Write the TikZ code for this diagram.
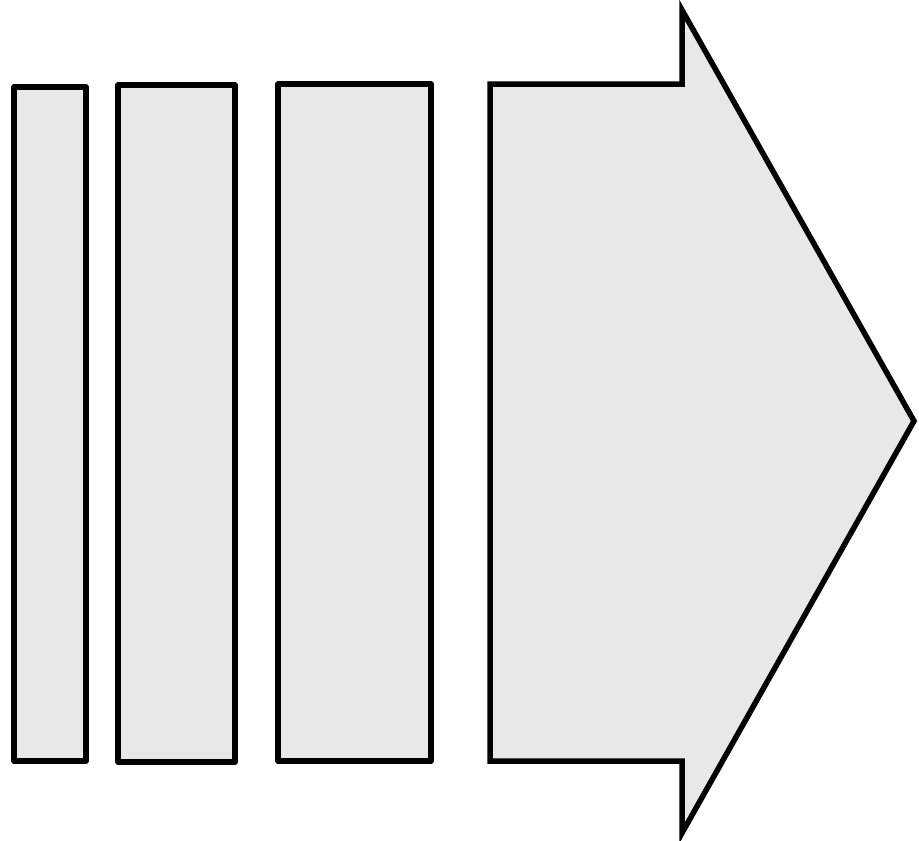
\documentclass[tikz,border=0pt]{standalone}
\begin{document}
\begin{tikzpicture}[x=1bp,y=-1bp,
  shapefill/.style={draw=black, line width=5.5bp, fill=black!9, line join=round}]
\useasboundingbox (0,0) rectangle (919,841);
\draw[shapefill] (14,87) rectangle (86,761);
\draw[shapefill] (118,85) rectangle (235,762);
\draw[shapefill] (278,84) rectangle (431,761);
\draw[shapefill, line join=miter] (490,84) -- (682,84) -- (682,10) -- (914,421) -- (682,833) -- (682,761) -- (490,761) -- cycle;
\end{tikzpicture}
\end{document}
